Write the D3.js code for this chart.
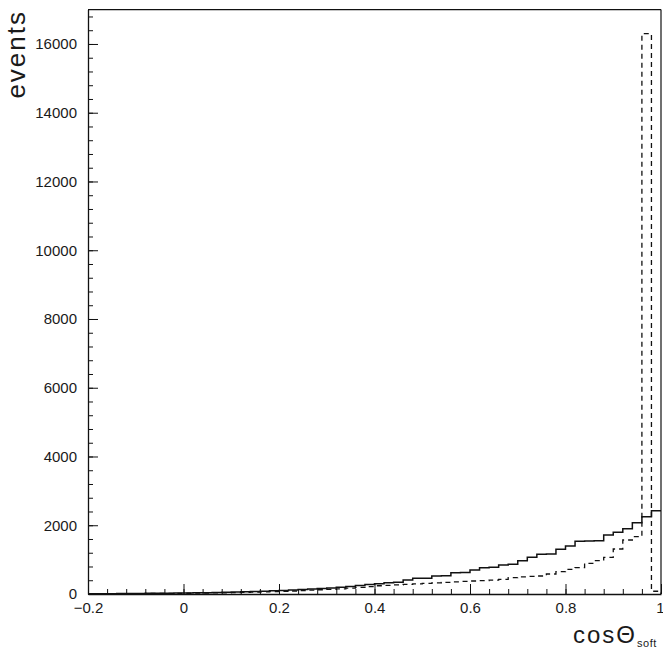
<!DOCTYPE html>
<html><head><meta charset="utf-8">
<script src="https://cdn.jsdelivr.net/npm/d3@7"></script>
<style>
html,body{margin:0;padding:0;background:#fff;}
text{font-family:"Liberation Sans",Arial,sans-serif;fill:#1a1a1a;}
</style></head>
<body>
<svg id="chart" width="663" height="648"></svg>
<script>
// bins: lower edges from -0.2 to 0.98, width 0.02
const binWidth = 0.02;
const binLow = d3.range(60).map(i => +(-0.2 + i * binWidth).toFixed(2));
const solidValues = [
  5, 8, 10, 12, 15, 18, 20, 22, 25, 28,
  30, 33, 37, 42, 48, 55, 62, 70, 80, 92,
  105, 118, 130, 145, 160, 178, 198, 220, 245, 275,
  300, 330, 340, 407, 456, 460, 524, 530, 620, 625,
  698, 766, 780, 844, 864, 969, 1067, 1155, 1160, 1300,
  1396, 1533, 1540, 1550, 1716, 1795, 1900, 2075, 2250, 2423
];
const dashedValues = [
  3, 5, 6, 8, 10, 12, 14, 16, 18, 20,
  22, 25, 28, 32, 36, 41, 47, 53, 60, 68,
  77, 87, 98, 110, 123, 137, 152, 170, 190, 215,
  240, 250, 265, 280, 295, 310, 325, 340, 355, 365,
  378, 390, 405, 427, 475, 500, 510, 524, 582, 650,
  718, 766, 892, 969, 1067, 1309, 1571, 1667, 16300, 80
];
const xTicks = [-0.2, 0, 0.2, 0.4, 0.6, 0.8, 1];
const xTickLabels = ["\u22120.2", "0", "0.2", "0.4", "0.6", "0.8", "1"];
const yTicks = [0, 2000, 4000, 6000, 8000, 10000, 12000, 14000, 16000];
const yTickLabels = ["0", "2000", "4000", "6000", "8000", "10000", "12000", "14000", "16000"];
const xMinorTicks = d3.range(31).map(i => +(-0.2 + i * 0.04).toFixed(2));
const yMinorTicks = d3.range(43).map(i => i * 400);

const svg = d3.select("#chart");
const x = d3.scaleLinear().domain([-0.2, 1]).range([88, 661]);
const y = d3.scaleLinear().domain([0, 17000]).range([594, 9.6]);

function histPoints(vals) {
  const pts = binLow.map((lo, i) => [lo, vals[i]]);
  pts.push([1.0, vals[vals.length - 1]]);
  return pts;
}
const line = d3.line().x(d => x(d[0])).y(d => y(d[1])).curve(d3.curveStepAfter);

// histograms
const dashPts = histPoints(dashedValues);
dashPts.push([1.0, 0]);
svg.append("path").attr("d", line(dashPts))
  .attr("fill", "none").attr("stroke", "#111").attr("stroke-width", 1.3)
  .attr("stroke-dasharray", "5,4");
svg.append("path").attr("d", line(histPoints(solidValues)))
  .attr("fill", "none").attr("stroke", "#111").attr("stroke-width", 1.5);

// minor ticks
svg.append("g").attr("transform", `translate(${x.range()[0]},0)`)
  .call(d3.axisLeft(y).tickValues(yMinorTicks).tickSize(-5).tickSizeOuter(0).tickFormat(""))
  .call(g => g.select(".domain").remove())
  .selectAll("line").attr("stroke", "#111");
svg.append("g").attr("transform", `translate(0,${y(0)})`)
  .call(d3.axisBottom(x).tickValues(xMinorTicks).tickSize(-5).tickSizeOuter(0).tickFormat(""))
  .call(g => g.select(".domain").remove())
  .selectAll("line").attr("stroke", "#111");

// major axes
const yAxis = svg.append("g").attr("transform", `translate(${x.range()[0]},0)`)
  .call(d3.axisLeft(y).tickValues(yTicks).tickSize(-10).tickSizeOuter(0).tickPadding(11)
    .tickFormat((d, i) => yTickLabels[i]));
yAxis.select(".domain").attr("stroke", "#111").attr("stroke-width", 1.3);
yAxis.selectAll("line").attr("stroke", "#111");
yAxis.selectAll("text").attr("font-size", 15).attr("font-family", "Liberation Sans, Arial, sans-serif").attr("fill", "#333");

const xAxis = svg.append("g").attr("transform", `translate(0,${y(0)})`)
  .call(d3.axisBottom(x).tickValues(xTicks).tickSize(-10).tickSizeOuter(0).tickPadding(8)
    .tickFormat((d, i) => xTickLabels[i]));
xAxis.select(".domain").attr("stroke", "#111").attr("stroke-width", 1.3);
xAxis.selectAll("line").attr("stroke", "#111");
xAxis.selectAll("text").attr("font-size", 15).attr("font-family", "Liberation Sans, Arial, sans-serif").attr("fill", "#333");
xAxis.selectAll("text").filter(d => d === 1).attr("text-anchor", "end").attr("dx", 3);

// frame top and right
svg.append("line").attr("x1", x(-0.2)).attr("x2", x(1)).attr("y1", y(17000)).attr("y2", y(17000))
  .attr("stroke", "#111").attr("stroke-width", 1.2);
svg.append("line").attr("x1", x(1)).attr("x2", x(1)).attr("y1", y(17000)).attr("y2", y(0))
  .attr("stroke", "#111").attr("stroke-width", 1.2);

// axis titles
svg.append("text").attr("transform", "translate(25,10) rotate(-90)")
  .attr("text-anchor", "end").attr("font-size", 26).attr("letter-spacing", 2)
  .attr("font-family", "DejaVu Sans, Liberation Sans, sans-serif").attr("font-weight", 200)
  .attr("fill", "#333")
  .text("events");
const xt = svg.append("text").attr("x", 573).attr("y", 643).attr("font-size", 24).attr("letter-spacing", 2)
  .attr("font-family", "DejaVu Sans, Liberation Sans, sans-serif").attr("font-weight", 200).attr("fill", "#333");
xt.append("tspan").text("cos\u0398");
xt.append("tspan").attr("font-size", 11).attr("letter-spacing", 0.5).attr("dy", 4).text("soft");
</script>
</body></html>
